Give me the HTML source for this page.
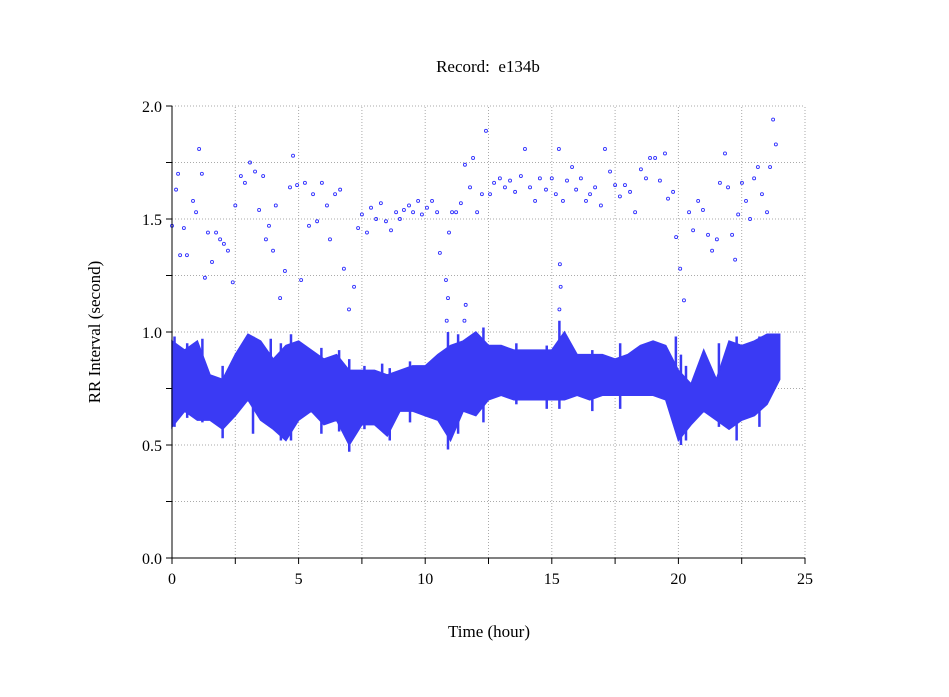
<!DOCTYPE html>
<html><head><meta charset="utf-8">
<style>
html,body{margin:0;padding:0;background:#fff;}
svg{display:block;font-family:"Liberation Serif",serif;}
</style></head>
<body>
<svg id="chart" width="949" height="697" viewBox="0 0 949 697" xmlns="http://www.w3.org/2000/svg">
<rect width="949" height="697" fill="#fff"/>
<text x="488" y="72" font-size="17" text-anchor="middle">Record:&#160; e134b</text>
<text x="489" y="637" font-size="17" text-anchor="middle">Time (hour)</text>
<text x="100" y="332" font-size="17" text-anchor="middle" transform="rotate(-90 100 332)">RR Interval (second)</text>
<g id="grid"></g>
<g id="band"></g>
<g id="pts"></g>
<g id="axes"></g>
</svg>
<script>
const bandHours=[0,0.5,1,1.5,2,2.5,3,3.5,4,4.5,5,5.5,6,6.5,7,7.5,8,8.5,9,9.5,10,10.5,11,11.5,12,12.5,13,13.5,14,14.5,15,15.5,16,16.5,17,17.5,18,18.5,19,19.5,20,20.5,21,21.5,22,22.5,23,23.5,24];
const bandHigh=[0.96,0.92,0.96,0.81,0.79,0.90,0.99,0.96,0.88,0.94,0.96,0.92,0.88,0.90,0.83,0.83,0.83,0.81,0.83,0.85,0.85,0.90,0.94,0.96,1.0,0.94,0.94,0.92,0.92,0.92,0.92,1.0,0.90,0.90,0.90,0.88,0.90,0.94,0.96,0.94,0.83,0.77,0.92,0.79,0.96,0.94,0.96,0.99,0.99];
const bandLow=[0.58,0.65,0.61,0.61,0.57,0.63,0.70,0.61,0.57,0.52,0.61,0.65,0.59,0.61,0.50,0.59,0.59,0.54,0.65,0.65,0.63,0.61,0.52,0.65,0.63,0.70,0.72,0.70,0.70,0.70,0.70,0.70,0.72,0.70,0.72,0.72,0.72,0.72,0.72,0.70,0.52,0.59,0.65,0.61,0.57,0.61,0.63,0.68,0.79];
const spikeT=[0.1,0.6,1.2,2.0,3.2,3.9,4.3,4.7,5.9,6.6,7.0,7.6,8.3,8.6,9.4,10.9,11.3,12.3,13.6,14.8,15.3,16.6,17.7,19.9,20.1,20.3,21.6,22.3,23.2];
const spikeLo=[0.58,0.62,0.60,0.53,0.55,0.58,0.52,0.52,0.55,0.56,0.47,0.57,0.57,0.52,0.60,0.48,0.55,0.60,0.68,0.66,0.66,0.65,0.66,0.60,0.50,0.52,0.58,0.52,0.58];
const spikeHi=[0.98,0.95,0.97,0.85,0.98,0.97,0.95,0.99,0.93,0.92,0.88,0.85,0.86,0.84,0.87,1.0,0.99,1.02,0.95,0.94,1.05,0.92,0.95,0.98,0.90,0.85,0.95,0.98,0.98];
const outT=[0,0.16,0.24,0.32,0.47,0.59,0.83,0.95,1.07,1.18,1.3,1.42,1.58,1.74,1.9,2.05,2.21,2.4,2.5,2.72,2.88,3.08,3.28,3.44,3.6,3.71,3.83,3.99,4.1,4.27,4.46,4.66,4.78,4.94,5.1,5.25,5.41,5.57,5.73,5.92,6.12,6.24,6.44,6.64,6.79,6.99,7.19,7.35,7.5,7.7,7.86,8.06,8.25,8.45,8.65,8.85,9.0,9.16,9.36,9.52,9.72,9.87,10.07,10.27,10.47,10.58,10.82,10.94,11.06,11.22,11.41,11.57,11.77,11.89,12.05,12.24,12.4,12.56,12.72,12.95,13.15,13.35,13.55,13.78,13.94,14.14,14.34,14.53,14.77,15.0,15.16,15.28,15.44,15.6,15.8,15.96,16.15,16.35,16.51,16.71,16.94,17.1,17.3,17.5,17.69,17.89,18.09,18.29,18.52,18.72,18.88,19.08,19.27,19.47,19.59,19.79,19.91,20.07,20.22,20.42,20.58,20.78,20.97,21.17,21.33,21.52,21.64,21.84,21.96,22.12,22.24,22.36,22.51,22.67,22.83,22.99,23.14,23.3,23.5,23.62,23.74,23.85,10.85,10.9,15.3,15.35,15.32,11.55,11.6];
const outV=[1.47,1.63,1.70,1.34,1.46,1.34,1.58,1.53,1.81,1.70,1.24,1.44,1.31,1.44,1.41,1.39,1.36,1.22,1.56,1.69,1.66,1.75,1.71,1.54,1.69,1.41,1.47,1.36,1.56,1.15,1.27,1.64,1.78,1.65,1.23,1.66,1.47,1.61,1.49,1.66,1.56,1.41,1.61,1.63,1.28,1.10,1.20,1.46,1.52,1.44,1.55,1.50,1.57,1.49,1.45,1.53,1.50,1.54,1.56,1.53,1.58,1.52,1.55,1.58,1.53,1.35,1.23,1.44,1.53,1.53,1.57,1.74,1.64,1.77,1.53,1.61,1.89,1.61,1.66,1.68,1.64,1.67,1.62,1.69,1.81,1.64,1.58,1.68,1.63,1.68,1.61,1.81,1.58,1.67,1.73,1.63,1.68,1.58,1.61,1.64,1.56,1.81,1.71,1.65,1.60,1.65,1.62,1.53,1.72,1.68,1.77,1.77,1.67,1.79,1.59,1.62,1.42,1.28,1.14,1.53,1.45,1.58,1.54,1.43,1.36,1.41,1.66,1.79,1.64,1.43,1.32,1.52,1.66,1.58,1.50,1.68,1.73,1.61,1.53,1.73,1.94,1.83,1.05,1.15,1.10,1.20,1.30,1.05,1.12];
const xTicks=[0,5,10,15,20,25];
const yTicks=[0.0,0.5,1.0,1.5,2.0];
const X0=172,X1=805,Y0=558,Y1=106;
const xs=h=>X0+(h/25)*(X1-X0);
const ys=v=>Y0-(v/2)*(Y0-Y1);
const NS="http://www.w3.org/2000/svg";
function mk(tag,parent,attrs){const e=document.createElementNS(NS,tag);for(const k in attrs)e.setAttribute(k,attrs[k]);parent.appendChild(e);return e;}
const grid=document.getElementById('grid');
for(let h=2.5;h<=25;h+=2.5){const l=mk('line',grid,{x1:xs(h),x2:xs(h),y1:Y0,y2:Y1,stroke:'#aaa','stroke-dasharray':'1,2'});

}
for(let v=0.25;v<=2.0001;v+=0.25){const l=mk('line',grid,{x1:X0,x2:X1,y1:ys(v),y2:ys(v),stroke:'#aaa','stroke-dasharray':'1,2'});

}
const band=document.getElementById('band');
let pts=bandHours.map((h,i)=>xs(h)+','+ys(bandHigh[i]));
for(let i=bandHours.length-1;i>=0;i--)pts.push(xs(bandHours[i])+','+ys(bandLow[i]));
const poly=mk('polygon',band,{points:pts.join(' '),fill:'#3a3af4',stroke:'#3a3af4','stroke-width':'1.5'});


spikeT.forEach((t,i)=>{const l=mk('line',band,{x1:xs(t),x2:xs(t),y1:ys(spikeLo[i]),y2:ys(spikeHi[i]),stroke:'#3a3af4','stroke-width':'2.5'});

});
const pg=document.getElementById('pts');
outT.forEach((t,i)=>{const c=mk('circle',pg,{cx:xs(t),cy:ys(outV[i]),r:1.5,fill:'none',stroke:'#3030ff','stroke-width':'0.9'});

});
const ax=document.getElementById('axes');
mk('line',ax,{x1:X0,x2:X0,y1:Y0,y2:Y1,stroke:'#000'});
mk('line',ax,{x1:X0,x2:X1,y1:Y0,y2:Y0,stroke:'#000'});
for(let h=0;h<=25;h+=2.5){mk('line',ax,{x1:xs(h),x2:xs(h),y1:Y0,y2:Y0+6,stroke:'#000'});}
for(let v=0;v<=2.0001;v+=0.25){mk('line',ax,{x1:X0-6,x2:X0,y1:ys(v),y2:ys(v),stroke:'#000'});}
xTicks.forEach(h=>{const t=mk('text',ax,{x:xs(h),y:Y0+26,'font-size':'16','text-anchor':'middle'});t.textContent=h;

});
yTicks.forEach(v=>{const t=mk('text',ax,{x:X0-10,y:ys(v)+6,'font-size':'16','text-anchor':'end'});t.textContent=v.toFixed(1);

});
</script>
</body></html>
